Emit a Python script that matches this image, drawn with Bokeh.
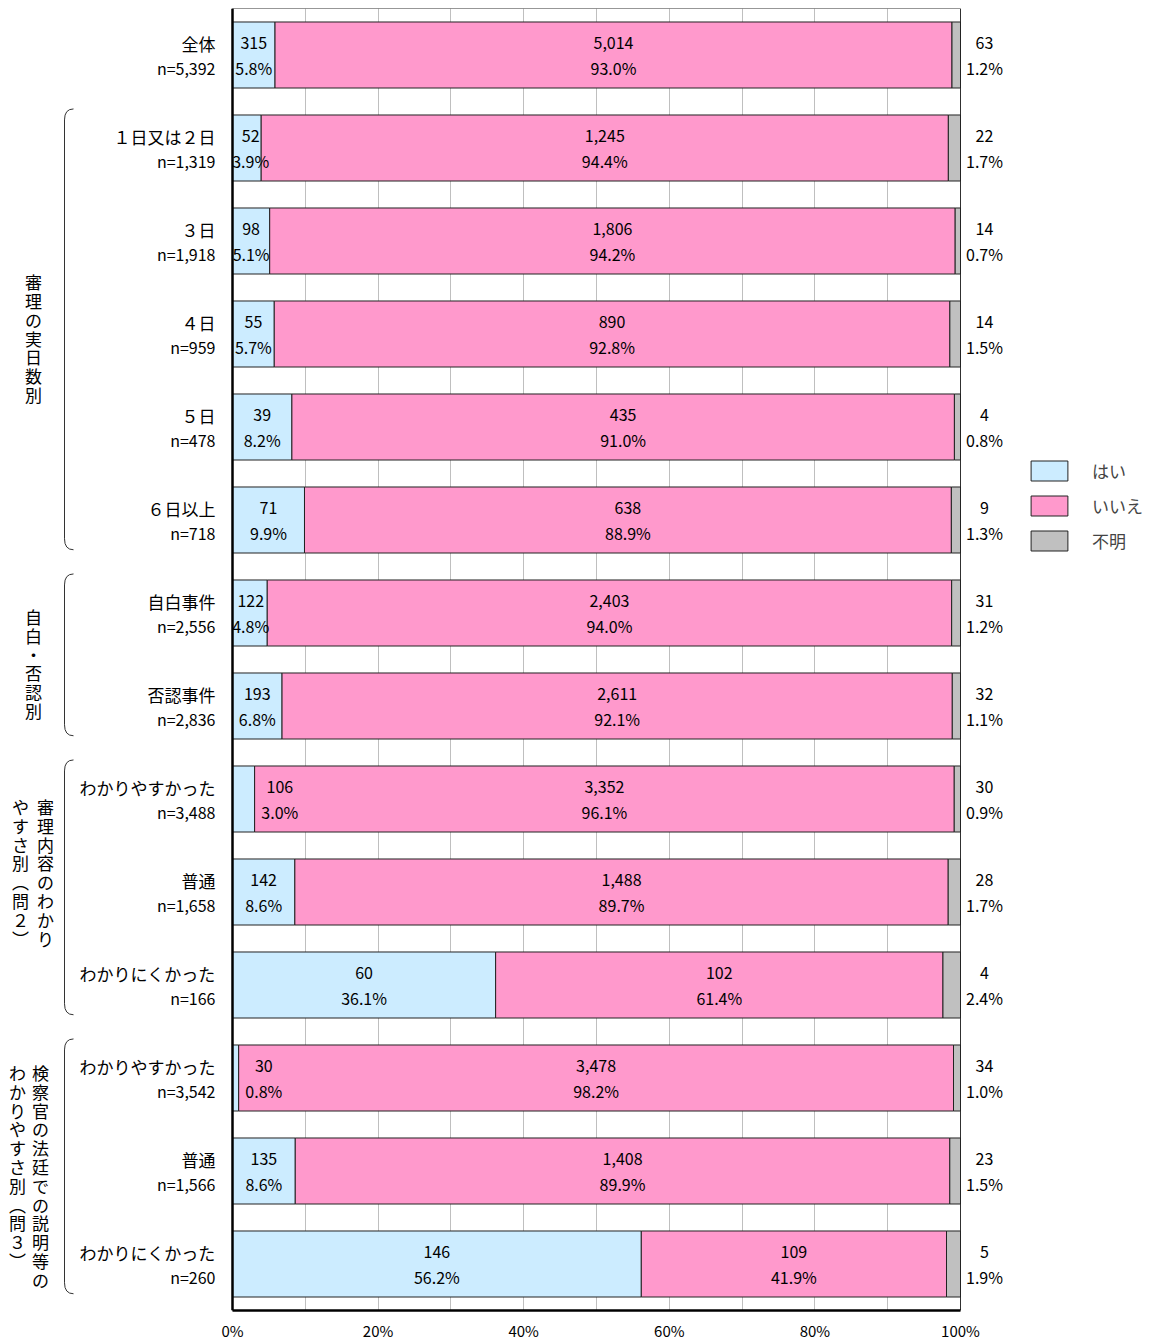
from bokeh.plotting import figure
from bokeh.models import ColumnDataSource, Range1d, FixedTicker, Span
from bokeh.core.properties import value
from bokeh.embed import file_html
from bokeh.resources import INLINE

# ---------------- data ----------------
categories = ["全体", "１日又は２日", "３日", "４日", "５日", "６日以上",
              "自白事件", "否認事件",
              "わかりやすかった", "普通", "わかりにくかった",
              "わかりやすかった", "普通", "わかりにくかった"]
yes_counts = [315, 52, 98, 55, 39, 71, 122, 193, 106, 142, 60, 30, 135, 146]
no_counts = [5014, 1245, 1806, 890, 435, 638, 2403, 2611, 3352, 1488, 102, 3478, 1408, 109]
unk_counts = [63, 22, 14, 14, 4, 9, 31, 32, 30, 28, 4, 34, 23, 5]
yes_pct = [5.8, 3.9, 5.1, 5.7, 8.2, 9.9, 4.8, 6.8, 3.0, 8.6, 36.1, 0.8, 8.6, 56.2]
no_pct = [93.0, 94.4, 94.2, 92.8, 91.0, 88.9, 94.0, 92.1, 96.1, 89.7, 61.4, 98.2, 89.9, 41.9]
unk_pct = [1.2, 1.7, 0.7, 1.5, 0.8, 1.3, 1.2, 1.1, 0.9, 1.7, 2.4, 1.0, 1.5, 1.9]
series_names = ["はい", "いいえ", "不明"]
series_colors = ["#CCECFF", "#FF99CC", "#C0C0C0"]
tick_values = [0, 20, 40, 60, 80, 100]
grid_values = [10, 20, 30, 40, 50, 60, 70, 80, 90]
# group title columns (vertical writing, right column first), first row, last row
group_titles = [["審理の実日数別"], ["自白・否認別"],
                ["審理内容のわかり", "やすさ別︵問２︶"],
                ["検察官の法廷での説明等の", "わかりやすさ別︵問３︶"]]
group_rows = [(1, 5), (6, 7), (8, 10), (11, 13)]

# ---------------- layout constants ----------------
FONT = "Noto Sans CJK JP"
W, H = 1150, 1343
BORDER_TOP = 8
BORDER_BOTTOM = 32
FRAME_H = H - BORDER_TOP - BORDER_BOTTOM
PLOT_LEFT_PX = 232          # pixel of 0%
PX_PER_PCT = 7.28
NROWS = len(categories)
PX_PER_ROW = FRAME_H / NROWS
X0 = -PLOT_LEFT_PX / PX_PER_PCT
X1 = (W - PLOT_LEFT_PX) / PX_PER_PCT
TITLE_COL_PX = [[33], [33], [45, 20], [40, 17]]
TITLE_SHIFT_PX = [0, 0, -24, 0]
CHAR_PITCH = 18.5
CJK_SIZE = 17
NUM_SIZE = 16


def px_to_x(px):
    return (px - PLOT_LEFT_PX) / PX_PER_PCT


n_total = [a + b + c for a, b, c in zip(yes_counts, no_counts, unk_counts)]
yes_share = [a / n * 100 for a, n in zip(yes_counts, n_total)]
no_share = [a / n * 100 for a, n in zip(no_counts, n_total)]
unk_share = [a / n * 100 for a, n in zip(unk_counts, n_total)]
ys = [NROWS - i - 0.5 for i in range(NROWS)]

src = ColumnDataSource(dict(y=ys, yes=yes_share, no=no_share, unk=unk_share))

p = figure(width=W, height=H, x_range=Range1d(X0, X1), y_range=Range1d(0, NROWS),
           output_backend="svg", toolbar_location=None, y_axis_location=None,
           min_border_left=0, min_border_right=0, min_border_top=BORDER_TOP,
           min_border_bottom=BORDER_BOTTOM)
p.outline_line_color = None
p.ygrid.visible = False
p.xgrid.ticker = FixedTicker(ticks=grid_values)
p.xgrid.grid_line_color = "#BFBFBF"
p.xgrid.grid_line_width = 1

ax = p.xaxis[0]
ax.ticker = FixedTicker(ticks=tick_values)
ax.major_label_overrides = {t: f"{t}%" for t in tick_values}
ax.bounds = (0, 100)
ax.axis_line_width = 2.5
ax.axis_line_color = "black"
ax.major_tick_out = 0
ax.major_tick_in = 0
ax.minor_tick_out = 0
ax.minor_tick_in = 0
ax.major_label_standoff = 9
ax.major_label_text_font = FONT
ax.major_label_text_font_size = "15px"
ax.major_label_text_color = "black"

# plot area border
p.quad(left=[0], right=[100], bottom=[0], top=[NROWS], fill_color=None,
       line_color="#303030", line_width=1)

p.hbar_stack(["yes", "no", "unk"], y="y", height=0.71, color=series_colors,
             line_color="#222222", line_width=1, source=src,
             legend_label=series_names)

p.add_layout(Span(location=0, dimension="height", line_color="black", line_width=2.5))

# ---------------- value labels ----------------
lx, ly, lc, lp = [], [], [], []
for i in range(NROWS):
    if yes_pct[i] >= 3.5:
        xs_yes = max(yes_share[i] / 2, 2.5)
    else:
        xs_yes = yes_pct[i] + 3.5
    xs_no = yes_share[i] + no_share[i] / 2
    xs_unk = px_to_x(984)
    for xv, c, pc in ((xs_yes, yes_counts[i], yes_pct[i]),
                      (xs_no, no_counts[i], no_pct[i]),
                      (xs_unk, unk_counts[i], unk_pct[i])):
        lx.append(xv)
        ly.append(ys[i])
        lc.append(f"{c:,}")
        lp.append(f"{pc:.1f}%")

num_style = dict(text_font=value(FONT), text_font_size=f"{NUM_SIZE}px", text_color="black",
                 text_baseline="middle")
cjk_style = dict(text_font=value(FONT), text_font_size=f"{CJK_SIZE}px", text_color="black",
                 text_baseline="middle")
p.text(x=lx, y=ly, text=lc, text_align="center", y_offset=-12, **num_style)
p.text(x=lx, y=ly, text=lp, text_align="center", y_offset=13, **num_style)

# ---------------- category labels ----------------
cat_x = [px_to_x(215)] * NROWS
p.text(x=cat_x, y=ys, text=categories, text_align="right", y_offset=-12, **cjk_style)
p.text(x=cat_x, y=ys, text=[f"n={n:,}" for n in n_total], text_align="right",
       y_offset=13, **num_style)

# ---------------- group brackets and titles ----------------
xv = px_to_x(64)
dx = 9 / PX_PER_PCT
r = 11 / PX_PER_ROW
line_h = CHAR_PITCH / (CJK_SIZE * 1.448)
for g, ((r0, r1), cols) in enumerate(zip(group_rows, group_titles)):
    top = NROWS - r0 - 0.08
    bot = NROWS - r1 - 1 + 0.18
    p.segment(x0=[xv], y0=[top - r], x1=[xv], y1=[bot + r], line_color="#333333", line_width=1)
    p.quadratic(x0=[xv + dx], y0=[top], x1=[xv], y1=[top - r], cx=[xv], cy=[top],
                line_color="#333333", line_width=1)
    p.quadratic(x0=[xv + dx], y0=[bot], x1=[xv], y1=[bot + r], cx=[xv], cy=[bot],
                line_color="#333333", line_width=1)
    center = (ys[r0] + ys[r1]) / 2 - TITLE_SHIFT_PX[g] / PX_PER_ROW
    longest = max(len(c) for c in cols)
    ytop = center + longest * CHAR_PITCH / 2 / PX_PER_ROW
    for cpx, ctext in zip(TITLE_COL_PX[g], cols):
        p.text(x=[px_to_x(cpx)], y=[ytop], text=["\n".join(ctext)], text_align="center",
               text_baseline="top", text_line_height=line_h, text_font=value(FONT),
               text_font_size=f"{CJK_SIZE}px", text_color="black")

# ---------------- legend ----------------
lg = p.legend[0]
lg.location = (1026, 757)
lg.padding = 0
lg.margin = 0
lg.border_line_color = None
lg.background_fill_alpha = 0
lg.glyph_width = 46
lg.glyph_height = 25
lg.label_height = 25
lg.spacing = 10
lg.label_standoff = 20
lg.label_text_font = FONT
lg.label_text_font_size = f"{CJK_SIZE}px"

open("out.html", "w").write(file_html(p, INLINE))
